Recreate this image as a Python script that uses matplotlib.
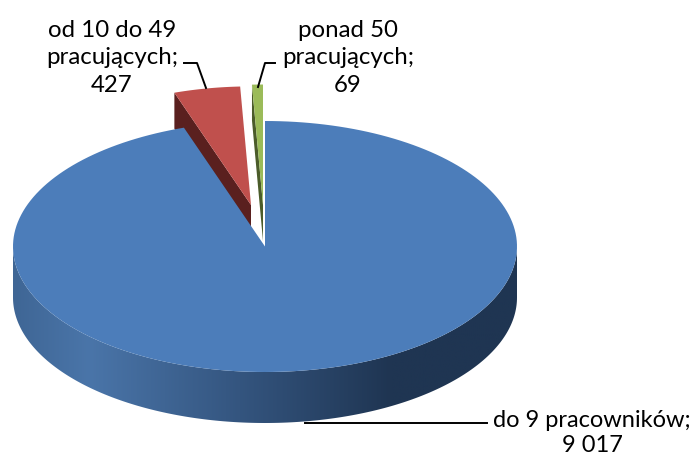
import numpy as np
from matplotlib import pyplot as plt
from matplotlib import colors
from matplotlib.patches import Polygon

plt.rcParams['font.family'] = ['Lato', 'DejaVu Sans']

categories = ["do 9 pracowników", "od 10 do 49\npracujących", "ponad 50\npracujących"]
values = [9017, 427, 69]

# layout, in pixels of the 694x457 picture
cx, cy = 265, 246.5
rx, ry = 252, 125.5
depth = 51


def arc(a0, a1, ox, oy, scale=1.0, n=200):
    # angles clockwise from 12 o'clock
    t = np.radians(np.linspace(a0, a1, n))
    return np.column_stack((ox + scale * rx * np.sin(t), oy - scale * ry * np.cos(t)))


def wedge(a0, a1, ox, oy, scale=1.0):
    return np.vstack(([ox, oy], arc(a0, a1, ox, oy, scale)))


fig = plt.figure(figsize=(6.94, 4.57), dpi=100)
ax = fig.add_axes([0, 0, 1, 1])
ax.set_xlim(0, 694)
ax.set_ylim(457, 0)
ax.set_axis_off()

angles = np.cumsum([0] + values) / sum(values) * 360
blue_end, red_end, green_end = angles[1], angles[2], angles[3]

# exploded small slices, drawn first so the big one covers their sides
red_x, red_y, red_s, red_d = 251, 205, 0.945, 36
red_top = wedge(blue_end, red_end, red_x, red_y, red_s)
red_edge = red_top[:2]
ax.add_patch(Polygon(np.vstack((red_edge, red_edge[::-1] + [0, red_d])), fc='#5a201f', ec='none'))
ax.add_patch(Polygon(red_top, fc='#c0504d', ec='none'))

green_x, green_y, green_s, green_d = 263, 205, 0.96, 36
green_top = wedge(red_end, green_end, green_x, green_y, green_s)
green_edge = green_top[:2]
ax.add_patch(Polygon(np.vstack((green_edge, green_edge[::-1] + [0, green_d])), fc='#4b5c2a', ec='none'))
ax.add_patch(Polygon(green_top, fc='#9bbb59', ec='none'))

# side of the big slice, shaded left to right
side = np.vstack((arc(90, 270, cx, cy), arc(270, 90, cx, cy + depth)))
side_patch = Polygon(side, fc='none', ec='none')
ax.add_patch(side_patch)
shade = colors.LinearSegmentedColormap.from_list(
    'shade', [(0, '#3f6695'), (0.15, '#4a75a9'), (0.45, '#34557f'), (0.75, '#1f3552'), (1, '#1f3552')])
img = ax.imshow(np.linspace(0, 1, 256)[None, :], cmap=shade, aspect='auto',
                extent=(cx - rx, cx + rx, cy + ry + depth, cy), zorder=1.5)
img.set_clip_path(side_patch)
ax.set_xlim(0, 694)
ax.set_ylim(457, 0)

ax.add_patch(Polygon(wedge(0, blue_end, cx, cy), fc='#4c7dba', ec='none', zorder=2))

# leader lines
ax.plot([305, 487], [423, 423], color='black', lw=1.4, zorder=3)
ax.plot([184, 197, 206], [63, 63, 88], color='black', lw=1.4, zorder=3)
ax.plot([275, 265, 258], [63, 63, 87], color='black', lw=1.4, zorder=3)

label_pos = [(592, 433), (112, 58), (348, 58)]
label_spacing = [1.22, 1.36, 1.36]
label_size = [17, 17.3, 17.3]
for cat, val, (x, y), ls, fs in zip(categories, values, label_pos, label_spacing, label_size):
    txt = "%s;\n%s" % (cat, format(val, ',').replace(',', ' '))
    ax.text(x, y, txt, ha='center', va='center', fontsize=fs, color='black',
            linespacing=ls, zorder=4)

fig.savefig('out.png', dpi=100)
